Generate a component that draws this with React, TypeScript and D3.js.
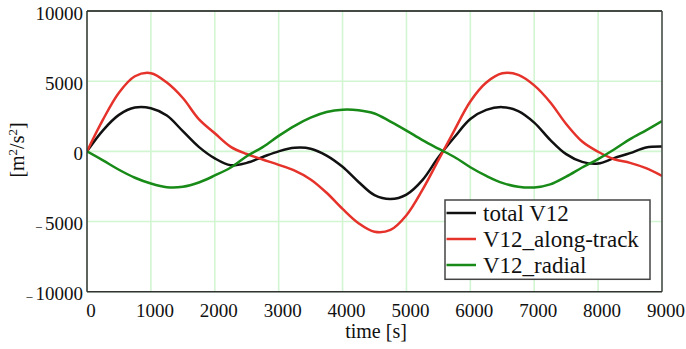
import React from "react";
import * as d3 from "d3";

const times = [0, 250, 500, 750, 1000, 1250, 1500, 1750, 2000, 2250, 2500, 2750, 3000, 3250, 3500, 3750, 4000, 4250, 4500, 4750, 5000, 5250, 5500, 5750, 6000, 6250, 6500, 6750, 7000, 7250, 7500, 7750, 8000, 8250, 8500, 8750, 9000];

const totalV12 = [0, 1500, 2600, 3120, 3070, 2550, 1440, 320, -500, -990, -820, -400, 0, 250, 190, -300, -1100, -2180, -3120, -3400, -3080, -2050, -420, 1000, 2300, 2950, 3150, 2870, 2050, 820, -200, -750, -870, -480, -130, 280, 350];

const alongTrack = [0, 2260, 4180, 5350, 5570, 4900, 3800, 2300, 1290, 320, -190, -580, -960, -1380, -2000, -2950, -4100, -5120, -5730, -5600, -4550, -2750, -630, 1500, 3550, 4900, 5560, 5450, 4700, 3500, 1950, 700, -30, -560, -820, -1200, -1750];

const radial = [0, -640, -1310, -1880, -2290, -2550, -2520, -2220, -1720, -1150, -350, 300, 1100, 1820, 2400, 2800, 2970, 2930, 2700, 2120, 1480, 800, 190, -400, -1130, -1750, -2250, -2520, -2570, -2350, -1800, -1150, -550, 130, 870, 1500, 2150];

const xTicks = [0, 1000, 2000, 3000, 4000, 5000, 6000, 7000, 8000, 9000];
const yTicks = [-10000, -5000, 0, 5000, 10000];

const seriesNames = ["total V12", "V12_along-track", "V12_radial"];
const seriesColors = ["#111111", "#e5322a", "#178a17"];
const seriesValues = [totalV12, alongTrack, radial];

const W = 686;
const H = 349;
const left = 87;
const right = 662;
const top = 11;
const bottom = 291.7;

const font = "'Liberation Serif', 'Times New Roman', serif";

export default function App() {
  const x = d3.scaleLinear().domain([0, 9000]).range([left, right]);
  const y = d3.scaleLinear().domain([-10000, 10000]).range([bottom, top]);
  const line = d3
    .line<number>()
    .x((_, i) => x(times[i]))
    .y((v) => y(v))
    .curve(d3.curveCatmullRom.alpha(0.5));

  const fmtY = (v: number) => Math.abs(v).toString();
  const ts = { fontFamily: font };

  return (
    <svg
      width={W}
      height={H}
      style={{ position: "absolute", left: 0, top: 0, background: "#fff" }}
    >
      <defs>
        <clipPath id="plotclip">
          <rect x={left} y={top} width={right - left} height={bottom - top} />
        </clipPath>
      </defs>
      <rect x={0} y={0} width={W} height={H} fill="#fff" />
      {xTicks.map((t) => (
        <line key={"gx" + t} x1={x(t)} x2={x(t)} y1={top} y2={bottom} stroke="#d2f5d2" strokeWidth={1.6} />
      ))}
      {yTicks.map((t) => (
        <line key={"gy" + t} x1={left} x2={right} y1={y(t)} y2={y(t)} stroke="#d2f5d2" strokeWidth={1.6} />
      ))}
      <g clipPath="url(#plotclip)">
        {seriesValues.map((vals, i) => (
          <path key={i} d={line(vals) || ""} fill="none" stroke={seriesColors[i]} strokeWidth={2.5} strokeLinejoin="round" />
        ))}
      </g>
      <line x1={left} x2={right} y1={top} y2={top} stroke="#111" strokeWidth={1.5} />
      <line x1={right} x2={right} y1={top} y2={bottom} stroke="#444" strokeWidth={1.5} />
      <line x1={left} x2={left} y1={top} y2={bottom} stroke="#333" strokeWidth={1.5} />
      <line x1={left} x2={right} y1={bottom} y2={bottom} stroke="#333" strokeWidth={1.5} />
      {yTicks.map((t) => (
        <text key={"ly" + t} x={83} y={y(t) + 8.5} textAnchor="end" fontSize={19} fill="#111" style={ts}>
          {t < 0 ? <tspan fontSize={12}>{"– "}</tspan> : null}
          {fmtY(t)}
        </text>
      ))}
      {xTicks.map((t) => (
        <text key={"lx" + t} x={x(t) + 4} y={316.5} textAnchor="middle" fontSize={19} fill="#111" style={ts}>
          {t}
        </text>
      ))}
      <text x={376} y={337.5} textAnchor="middle" fontSize={20} fill="#111" style={ts}>
        time [s]
      </text>
      <text transform="translate(24,150) rotate(-90)" textAnchor="middle" fontSize={20} fill="#111" style={ts}>
        [m<tspan fontSize={13} dy={-7}>2</tspan>
        <tspan dy={7}>/s</tspan>
        <tspan fontSize={13} dy={-7}>2</tspan>
        <tspan dy={7}>]</tspan>
      </text>
      <rect x={445} y={200} width={205} height={79.3} fill="#fff" stroke="#444" strokeWidth={1.5} />
      {seriesNames.map((n, i) => (
        <g key={n}>
          <line x1={446.5} x2={476} y1={213 + i * 26} y2={213 + i * 26} stroke={seriesColors[i]} strokeWidth={2.5} />
          <text x={483} y={213 + i * 26 + 7.5} fontSize={23} fill="#111" style={ts}>
            {n}
          </text>
        </g>
      ))}
    </svg>
  );
}
